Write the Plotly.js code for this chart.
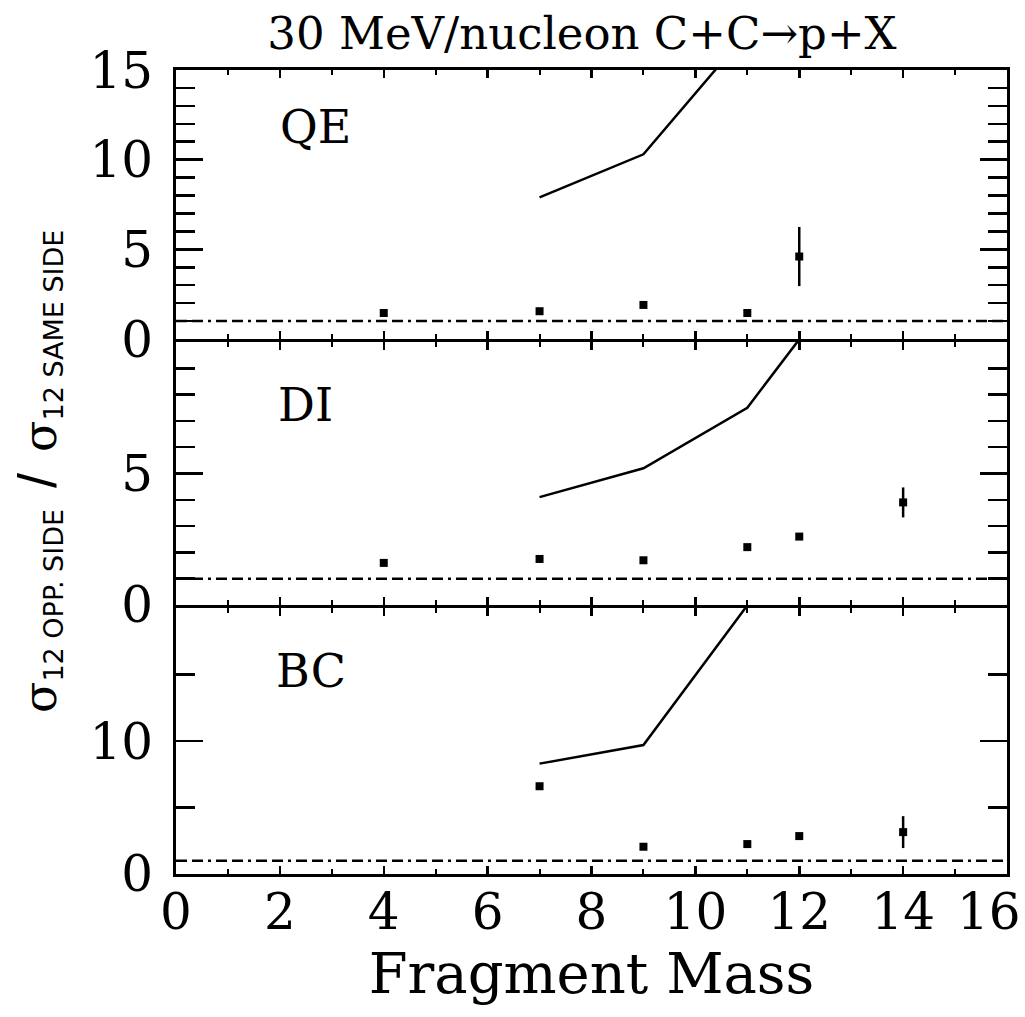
<!DOCTYPE html>
<html>
<head>
<meta charset="utf-8">
<script src="https://cdn.plot.ly/plotly-3.0.1.min.js"></script>
<style>html,body{margin:0;padding:0;background:#fff;}</style>
</head>
<body>
<div id="chart" style="width:1025px;height:1017px;"></div>
<script>
// ---- data ----
const qeX = [4, 7, 9, 11, 12];
const qeY = [1.45, 1.55, 1.9, 1.45, 4.6];
const qeErr = [0, 0, 0, 0, 1.65];
const qeLineX = [7, 9, 11];
const qeLineY = [7.9, 10.3, 17.1];

const diX = [4, 7, 9, 11, 12, 14];
const diY = [1.6, 1.75, 1.7, 2.2, 2.6, 3.9];
const diErr = [0, 0, 0, 0, 0, 0.57];
const diLineX = [7, 9, 11, 12];
const diLineY = [4.1, 5.2, 7.5, 10.1];

const bcX = [7, 9, 11, 12, 14];
const bcY = [6.6, 2.05, 2.25, 2.85, 3.15];
const bcErr = [0, 0, 0, 0, 1.2];
const bcLineX = [7, 9, 11];
const bcLineY = [8.3, 9.7, 20.2];

const refX = [0, 16];
const refY = [1, 1];

const panelNames = ["QE", "DI", "BC"];
const xTickVals = [0, 2, 4, 6, 8, 10, 12, 14];
const xTickText = ["0", "2", "4", "6", "8", "10", "12", "14"];
const xLastTickText = "16";
const yTickValsTop = [0, 5, 10, 15];
const yTickValsMid = [0, 5];
const yTickValsBot = [0, 10];

// ---- traces ----
const axesSets = [["x", "y"], ["x2", "y2"], ["x3", "y3"]];
const pts = [[qeX, qeY, qeErr], [diX, diY, diErr], [bcX, bcY, bcErr]];
const lines = [[qeLineX, qeLineY], [diLineX, diLineY], [bcLineX, bcLineY]];
const traces = [];
for (let i = 0; i < 3; i++) {
  const [xa, ya] = axesSets[i];
  traces.push({
    x: refX, y: refY, xaxis: xa, yaxis: ya, mode: "lines", type: "scatter",
    line: {color: "black", width: 2.5, dash: "11px,5px,11px,5px,3px,5px"},
    hoverinfo: "skip"
  });
  traces.push({
    x: lines[i][0], y: lines[i][1], xaxis: xa, yaxis: ya, mode: "lines", type: "scatter",
    line: {color: "black", width: 2.5}
  });
  traces.push({
    x: pts[i][0], y: pts[i][1], xaxis: xa, yaxis: ya, mode: "markers", type: "scatter",
    marker: {symbol: "square", size: 8, color: "black"},
    error_y: {type: "data", array: pts[i][2], visible: true, thickness: 2.5, width: 0, color: "black"},
    cliponaxis: false
  });
}

const FS = "DejaVu Serif";
const xBase = {
  range: [0, 16], tickmode: "array", tickvals: xTickVals, ticktext: xTickText,
  ticks: "inside", ticklen: 8, tickwidth: 2.5, tickcolor: "black",
  showline: true, linewidth: 3, linecolor: "black", mirror: "allticks",
  showgrid: false, zeroline: false, showticklabels: false,
  minor: {dtick: 1, tick0: 0, ticks: "inside", ticklen: 5, tickwidth: 2, tickcolor: "black"},
  fixedrange: true
};
function yAx(range, tv, minorD, dom) {
  return {
    range: range, domain: dom, tickmode: "array", tickvals: tv, ticktext: tv.map(String),
    ticks: "inside", ticklen: 27, tickwidth: 2.5, tickcolor: "black",
    showline: true, linewidth: 3, linecolor: "black", mirror: "allticks",
    showgrid: false, zeroline: false,
    tickfont: {family: FS, size: 50, color: "black"},
    ticklabelstandoff: 10,
    minor: {dtick: minorD, tick0: 0, ticks: "inside", ticklen: 19, tickwidth: 2.5, tickcolor: "black"},
    fixedrange: true
  };
}

const sig = '<span style="font-family:DejaVu Serif;font-size:46px">σ</span>';
const sub = (t) => '<sub><span style="font-size:27px">' + t + '</span></sub>';
const yTitle = sig + sub("12 OPP. SIDE") + '  <span style="font-family:Liberation Sans;font-size:54px">/</span>  ' + sig + sub("12 SAME SIDE");

const layout = {
  width: 1025, height: 1017,
  margin: {l: 176, r: 18, t: 70, b: 143},
  paper_bgcolor: "white", plot_bgcolor: "white",
  showlegend: false,
  font: {family: FS, color: "black"},
  title: {
    text: "30 MeV/nucleon C+C→p+X",
    font: {family: FS, size: 45, color: "black"},
    x: 582 / 1025, xanchor: "center", xref: "container",
    y: 1 - 33 / 1017, yanchor: "middle", yref: "container"
  },
  xaxis: Object.assign({}, xBase, {anchor: "y"}),
  xaxis2: Object.assign({}, xBase, {anchor: "y2", matches: "x"}),
  xaxis3: Object.assign({}, xBase, {
    anchor: "y3", matches: "x", showticklabels: true,
    tickfont: {family: FS, size: 50, color: "black"},
    ticklabelstandoff: -8,
    title: {text: "Fragment Mass", font: {family: FS, size: 56, color: "black"}, standoff: 12}
  }),
  yaxis: yAx([0, 15], yTickValsTop, 1, [0.6654, 1]),
  yaxis2: yAx([0, 10], yTickValsMid, 1, [0.3346, 0.6617]),
  yaxis3: yAx([0, 20], yTickValsBot, 5, [0, 0.3308]),
  annotations: [
    {text: panelNames[0], xref: "x", yref: "y", x: 2.69, y: 11.8, showarrow: false,
     xanchor: "center", yanchor: "middle", font: {family: FS, size: 46, color: "black"}},
    {text: panelNames[1], xref: "x2", yref: "y2", x: 2.5, y: 7.6, showarrow: false,
     xanchor: "center", yanchor: "middle", font: {family: FS, size: 46, color: "black"}},
    {text: panelNames[2], xref: "x3", yref: "y3", x: 2.6, y: 15.3, showarrow: false,
     xanchor: "center", yanchor: "middle", font: {family: FS, size: 46, color: "black"}},
    {text: xLastTickText, xref: "paper", yref: "paper", x: (989 - 176) / 831, y: (874 - 912) / 804,
     xanchor: "center", yanchor: "middle", showarrow: false,
     font: {family: FS, size: 50, color: "black"}},
    {
      text: yTitle,
      xref: "paper", yref: "paper", x: (38 - 176) / 831, y: (874 - 472) / 804,
      xanchor: "center", yanchor: "middle", textangle: -90, showarrow: false,
      font: {family: "DejaVu Sans", size: 33, color: "black"}
    }
  ]
};

Plotly.newPlot("chart", traces, layout, {displayModeBar: false, staticPlot: true});
</script>
</body>
</html>
